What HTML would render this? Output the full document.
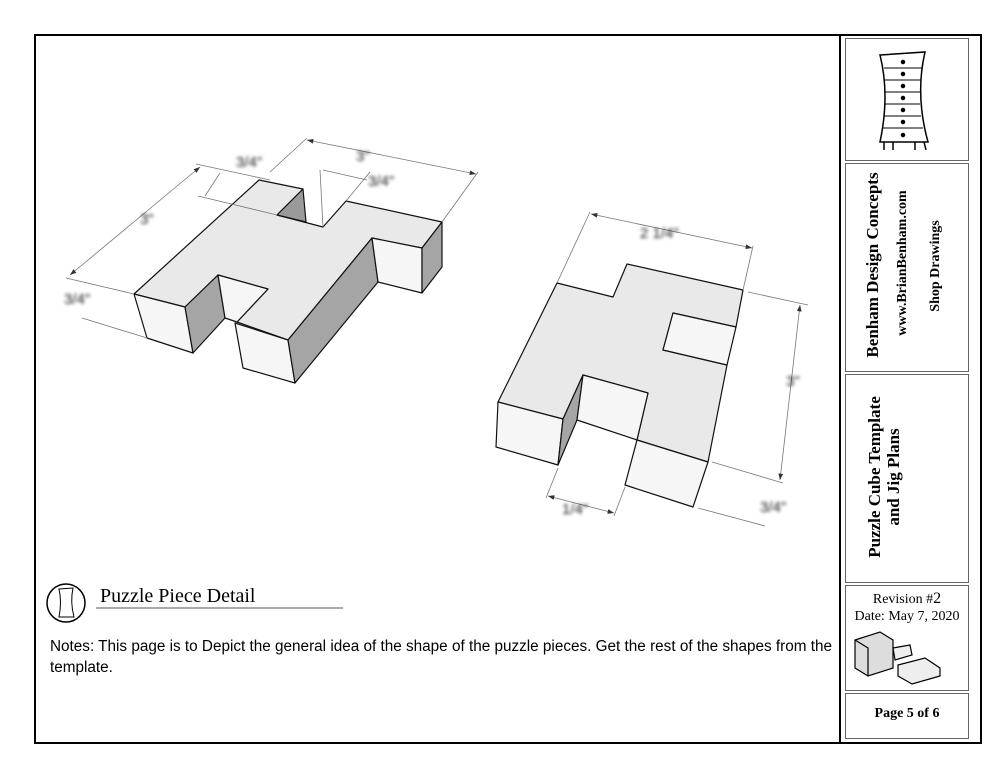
<!DOCTYPE html>
<html><head><meta charset="utf-8"><style>
body{margin:0;background:#fff;width:1005px;height:776px;overflow:hidden;position:relative;font-family:"Liberation Sans",sans-serif}
.b{position:absolute;border:1px solid #666}
.v{position:absolute;font-family:"Liberation Serif",serif;font-weight:bold;white-space:nowrap;transform:rotate(-90deg);transform-origin:center}
.blur{filter:blur(1.6px)}
</style></head><body>
<div style="position:absolute;left:34px;top:34px;width:944px;height:706px;border:2px solid #000"></div>
<div style="position:absolute;left:839px;top:34px;width:2px;height:708px;background:#000"></div>
<div class="b" style="left:845px;top:38px;width:122px;height:121px"></div>
<div class="b" style="left:845px;top:163px;width:122px;height:207px"></div>
<div class="b" style="left:845px;top:374px;width:122px;height:207px"></div>
<div class="b" style="left:845px;top:585px;width:122px;height:104px"></div>
<div class="b" style="left:845px;top:693px;width:122px;height:44px"></div>

<svg width="1005" height="776" style="position:absolute;left:0;top:0" xmlns="http://www.w3.org/2000/svg">
<defs><marker id="a" markerWidth="8" markerHeight="6" refX="8" refY="3" orient="auto"><path d="M0,0L8,3L0,6z" fill="#333"/></marker>
<marker id="s" markerWidth="8" markerHeight="6" refX="0" refY="3" orient="auto"><path d="M8,0L0,3L8,6z" fill="#333"/></marker></defs>
<g stroke="#000" stroke-width="1.5" fill="#fff">
<path d="M880,55 L925,52 Q915,95 928,142 L880,142 Q890,95 880,55z"/>
<path d="M884,142 L884,150 M924,142 L926,150 M893,142 L893,150 M915,142 L915,150" />
<g stroke-width="1"><path d="M884,68H922M884,80H921M885,92H920M885,104H920M884,116H921M883,128H923"/></g>
<g fill="#000"><circle cx="903" cy="62" r="1.5"/><circle cx="903" cy="74" r="1.5"/><circle cx="903" cy="86" r="1.5"/><circle cx="903" cy="98" r="1.5"/><circle cx="903" cy="110" r="1.5"/><circle cx="903" cy="122" r="1.5"/><circle cx="903" cy="135" r="1.5"/></g>
</g>
<g stroke="#000" stroke-width="1.2" fill="#ddd">
<path d="M855,640L880,632L893,640L893,668L868,676L855,668z"/>
<path d="M855,640L868,648L868,676" fill="none"/>
<path d="M893,648L910,645L912,655L895,660z" fill="#eee"/>
<path d="M898,665L925,658L940,668L940,676L912,684L898,676z" fill="#eee"/>
</g>
<g stroke="#111" stroke-width="1.2" stroke-linejoin="round">
<polygon fill="#e9e9e9" points="259,180 303,189 277,215 323,227 346,201 442,222 422,248 372,238 288,340 237,322 268,289 218,275 185,307 134,294"/>
<polygon fill="#9a9a9a" points="303,189 306,222 277,215"/>
<polygon fill="#f6f6f6" points="134,294 185,307 193,353 147,338"/>
<polygon fill="#a5a5a5" points="218,275 225,318 193,353 185,307"/>
<polygon fill="#f6f6f6" points="218,275 268,289 237,322 225,318"/>
<polygon fill="#f6f6f6" points="235,323 288,340 295,383 243,368"/>
<polygon fill="#a5a5a5" points="372,238 288,340 295,383 378,282"/>
<polygon fill="#f6f6f6" points="372,238 422,248 422,293 378,282"/>
<polygon fill="#a5a5a5" points="422,248 442,222 442,267 422,293"/>
</g>
<g stroke="#111" stroke-width="1.2" stroke-linejoin="round">
<polygon fill="#e9e9e9" points="498,402 557,283 613,297 627,264 743,290 736,327 673,313 663,350 727,365 708,462 637,440 648,393 583,375 563,419"/>
<polygon fill="#f6f6f6" points="673,313 736,327 727,365 663,350"/>
<polygon fill="#f6f6f6" points="498,402 563,419 558,465 496,447"/>
<polygon fill="#a5a5a5" points="563,419 583,375 577,420 558,465"/>
<polygon fill="#f6f6f6" points="583,375 648,393 637,440 577,420"/>
<polygon fill="#f6f6f6" points="637,440 708,462 693,507 625,485"/>
</g>
<g stroke="#777" stroke-width="0.8" fill="none">
<path d="M307,140L476,174" marker-start="url(#s)" marker-end="url(#a)"/>
<path d="M270,172L307,138M442,222L478,172"/>
<path d="M323,227L320,170M346,201L370,172M323,170L367,180"/>
<path d="M200,167L70,275" marker-start="url(#s)" marker-end="url(#a)"/>
<path d="M196,164L270,180M66,278L134,294M82,318L147,338M220,173L205,196M198,196L277,215"/>
<path d="M591,214L752,248" marker-start="url(#s)" marker-end="url(#a)"/>
<path d="M557,283L590,212M743,290L753,246"/>
<path d="M800,305L780,480" marker-start="url(#s)" marker-end="url(#a)"/>
<path d="M748,292L808,305M712,462L783,483M698,508L765,526"/>
<path d="M548,496L614,513" marker-start="url(#s)" marker-end="url(#a)"/>
<path d="M558,468L546,498M625,487L614,516"/>
</g>
<g class="blur" font-family="Liberation Sans" font-size="15" fill="#222">
<text x="236" y="167">3/4"</text><text x="356" y="161">3"</text><text x="368" y="186">3/4"</text>
<text x="140" y="224">3"</text><text x="64" y="304">3/4"</text>
<text x="640" y="238">2 1/4"</text><text x="786" y="386">3"</text><text x="562" y="514">1/4"</text><text x="760" y="512">3/4"</text>
</g>
<circle cx="66" cy="603" r="19" fill="#fff" stroke="#000" stroke-width="1.5"/>
<path d="M59,589L73,588Q70,602 74,617L59,617Q62,602 59,589z" fill="none" stroke="#000"/>
<path d="M96,608H343" stroke="#555" stroke-width="1"/>
</svg>

<div style="position:absolute;left:50px;top:585px;left:100px;font-family:'Liberation Serif',serif;font-size:20px">Puzzle Piece Detail</div>
<div style="position:absolute;left:50px;top:636px;width:790px;font-size:15.3px;line-height:21px;white-space:nowrap">Notes: This page is to Depict the general idea of the shape of the puzzle pieces. Get the rest of the shapes from the<br>template.</div>

<div class="v" style="left:773px;top:255px;width:200px;text-align:center;font-size:17px">Benham Design Concepts</div>
<div class="v" style="left:803px;top:255px;width:200px;text-align:center;font-size:14px">www.BrianBenham.com</div>
<div class="v" style="left:836px;top:258px;width:200px;text-align:center;font-size:14px">Shop Drawings</div>
<div class="v" style="left:770px;top:467px;width:210px;text-align:center;font-size:17px">Puzzle Cube Template</div>
<div class="v" style="left:789px;top:467px;width:210px;text-align:center;font-size:17px">and Jig Plans</div>
<div style="position:absolute;left:845px;top:590px;width:124px;text-align:center;font-family:'Liberation Serif',serif;font-size:14px;line-height:17px">Revision #<span style="font-size:16px">2</span><br>Date: May 7, 2020</div>
<div style="position:absolute;left:845px;top:706px;width:124px;text-align:center;font-family:'Liberation Serif',serif;font-weight:bold;font-size:14px">Page 5 of 6</div>
</body></html>
